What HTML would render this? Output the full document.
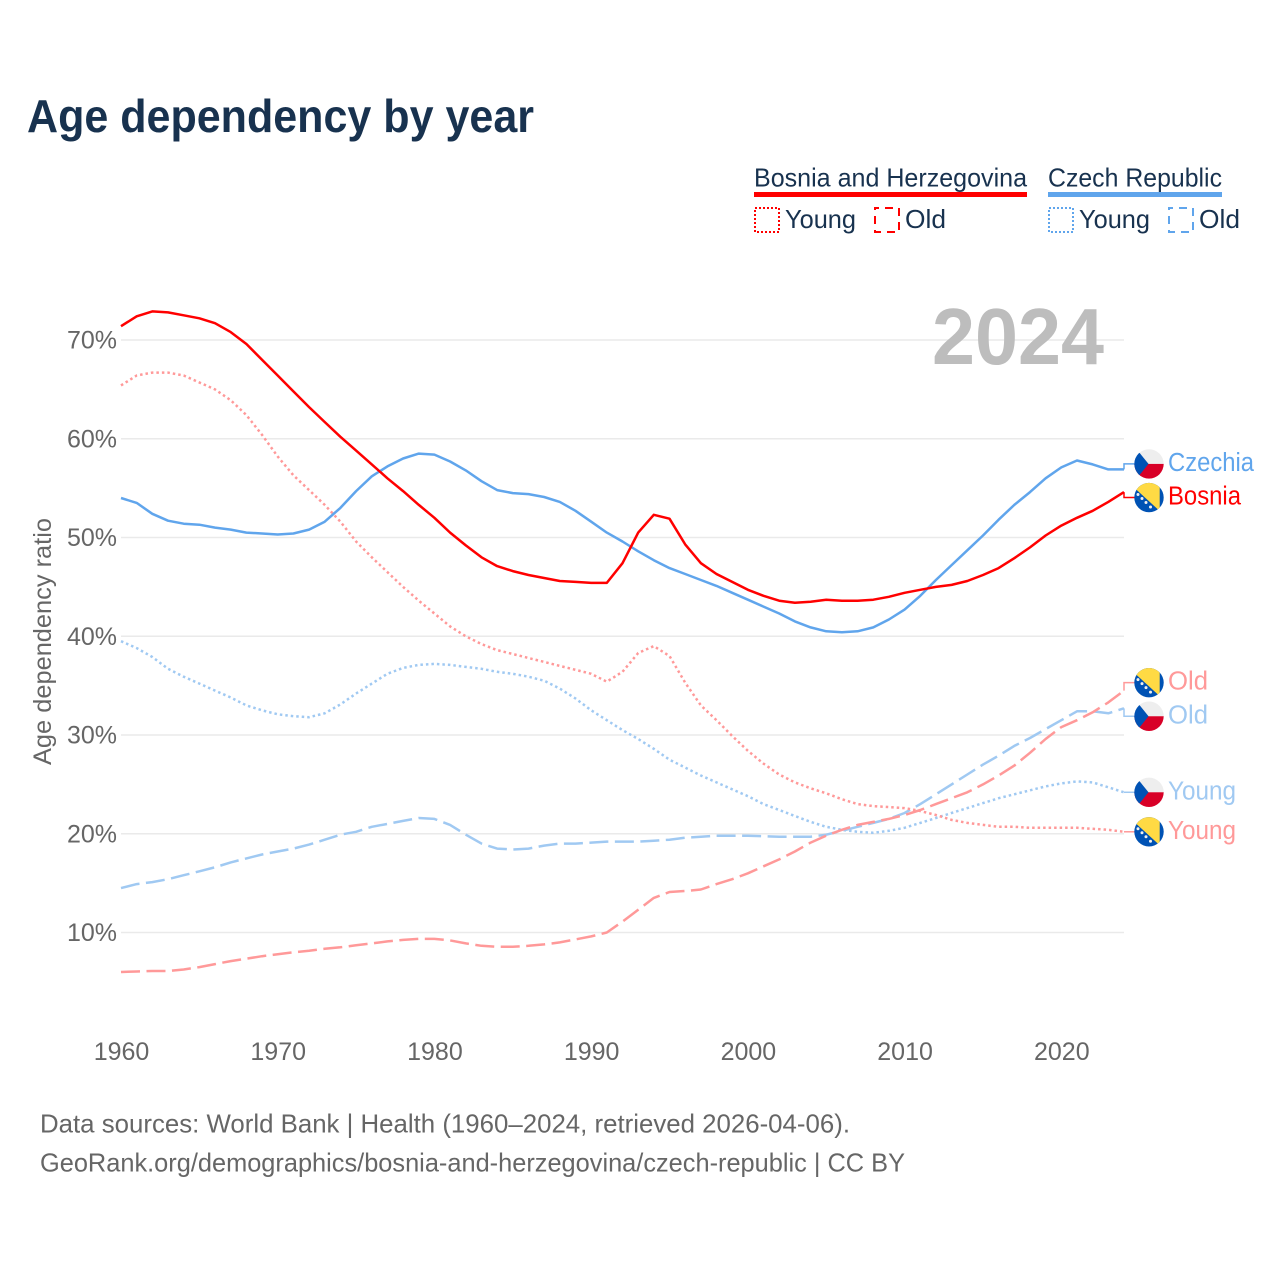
<!DOCTYPE html>
<html lang="en">
<head>
<meta charset="utf-8">
<title>Age dependency by year</title>
<style>
html,body{margin:0;padding:0;background:#fff;}
svg{display:block;}
text{font-family:"Liberation Sans",sans-serif;}
</style>
</head>
<body>
<svg id="chart" xmlns="http://www.w3.org/2000/svg" width="1280" height="1280" viewBox="0 0 1280 1280">
  <defs>
    <clipPath id="flag-clip"><circle cx="0" cy="0" r="14.7"/></clipPath>
    <g id="flag-cz" clip-path="url(#flag-clip)">
      <rect x="-15" y="-15" width="30" height="15" fill="#eeeeee"/>
      <rect x="-15" y="0" width="30" height="15" fill="#d80027"/>
      <polygon points="-15,-18 -0.5,0 -15,18" fill="#0052b4"/>
    </g>
    <g id="flag-ba" clip-path="url(#flag-clip)">
      <rect x="-15" y="-15" width="30" height="30" fill="#0052b4"/>
      <polygon points="-15,-10 10.7,13.5 10.7,-15 -15,-15" fill="#ffda44"/>
      <g fill="#f0f0f0">
        <circle cx="-11" cy="-3" r="1.5"/><circle cx="-7" cy="1" r="1.5"/><circle cx="-3" cy="5" r="1.5"/><circle cx="1.5" cy="9.5" r="1.5"/>
      </g>
    </g>
  </defs>

  <rect x="0" y="0" width="1280" height="1280" fill="#ffffff"/>
  <text x="27" y="132" font-size="46" font-weight="700" fill="#18324f" textLength="507" lengthAdjust="spacingAndGlyphs">Age dependency by year</text>

  <g font-size="26" fill="#18324f">
    <text x="754" y="186.5" textLength="273" lengthAdjust="spacingAndGlyphs">Bosnia and Herzegovina</text>
    <rect x="754" y="192" width="273" height="5" fill="#ff0000"/>
    <rect x="755" y="208" width="24" height="24" fill="none" stroke="#ff0000" stroke-width="2" stroke-dasharray="2 2"/>
    <text x="785" y="228" textLength="71" lengthAdjust="spacingAndGlyphs">Young</text>
    <rect x="875" y="208" width="24" height="24" fill="none" stroke="#ff0000" stroke-width="2" stroke-dasharray="8 6" stroke-dashoffset="4"/>
    <text x="905" y="228" textLength="41" lengthAdjust="spacingAndGlyphs">Old</text>

    <text x="1048" y="186.5" textLength="174" lengthAdjust="spacingAndGlyphs">Czech Republic</text>
    <rect x="1048" y="192" width="174" height="5" fill="#60a5ec"/>
    <rect x="1049" y="208" width="24" height="24" fill="none" stroke="#60a5ec" stroke-width="2" stroke-dasharray="2 2"/>
    <text x="1079" y="228" textLength="71" lengthAdjust="spacingAndGlyphs">Young</text>
    <rect x="1169" y="208" width="24" height="24" fill="none" stroke="#60a5ec" stroke-width="2" stroke-dasharray="8 6" stroke-dashoffset="4"/>
    <text x="1199" y="228" textLength="41" lengthAdjust="spacingAndGlyphs">Old</text>
  </g>

  <g id="grid"></g>
  <g id="yticks"></g>
  <g id="xticks"></g>
  <text transform="translate(51,765) rotate(-90)" font-size="25" fill="#666666" textLength="247" lengthAdjust="spacingAndGlyphs">Age dependency ratio</text>
  <text x="932" y="364" font-size="80" font-weight="700" fill="#bdbdbd" textLength="172" lengthAdjust="spacingAndGlyphs">2024</text>

  <g id="series"></g>
  <g id="labels"></g>

  <text x="40" y="1132.5" font-size="26" fill="#666666" textLength="810" lengthAdjust="spacingAndGlyphs">Data sources: World Bank | Health (1960–2024, retrieved 2026-04-06).</text>
  <text x="40" y="1171.5" font-size="26" fill="#666666" textLength="865" lengthAdjust="spacingAndGlyphs">GeoRank.org/demographics/bosnia-and-herzegovina/czech-republic | CC BY</text>
</svg>
<script>
const years = [1960,1961,1962,1963,1964,1965,1966,1967,1968,1969,1970,1971,1972,1973,1974,1975,1976,1977,1978,1979,1980,1981,1982,1983,1984,1985,1986,1987,1988,1989,1990,1991,1992,1993,1994,1995,1996,1997,1998,1999,2000,2001,2002,2003,2004,2005,2006,2007,2008,2009,2010,2011,2012,2013,2014,2015,2016,2017,2018,2019,2020,2021,2022,2023,2024];
const bosniaTotal = [71.4,72.4,72.9,72.8,72.5,72.2,71.7,70.8,69.6,68.0,66.4,64.8,63.2,61.7,60.2,58.8,57.4,56.0,54.7,53.3,52.0,50.5,49.2,48.0,47.1,46.6,46.2,45.9,45.6,45.5,45.4,45.4,47.4,50.5,52.3,51.9,49.3,47.4,46.3,45.5,44.7,44.1,43.6,43.4,43.5,43.7,43.6,43.6,43.7,44.0,44.4,44.7,45.0,45.2,45.6,46.2,46.9,47.9,49.0,50.2,51.2,52.0,52.7,53.6,54.6];
const czechTotal = [54.0,53.5,52.4,51.7,51.4,51.3,51.0,50.8,50.5,50.4,50.3,50.4,50.8,51.6,53.0,54.7,56.2,57.2,58.0,58.5,58.4,57.7,56.8,55.7,54.8,54.5,54.4,54.1,53.6,52.7,51.6,50.5,49.6,48.6,47.7,46.9,46.3,45.7,45.1,44.4,43.7,43.0,42.3,41.5,40.9,40.5,40.4,40.5,40.9,41.7,42.7,44.1,45.7,47.2,48.7,50.2,51.8,53.3,54.6,56.0,57.1,57.8,57.4,56.9,56.9];
const bosniaYoung = [65.4,66.4,66.7,66.7,66.4,65.7,65.0,63.9,62.4,60.4,58.2,56.3,54.8,53.3,51.6,49.6,48.0,46.5,45.0,43.6,42.3,41.0,40.0,39.2,38.6,38.2,37.8,37.4,37.0,36.6,36.2,35.4,36.4,38.3,39.0,38.0,35.3,33.0,31.5,29.9,28.4,27.1,26.0,25.2,24.6,24.1,23.5,23.0,22.8,22.7,22.6,22.3,21.9,21.4,21.1,20.9,20.7,20.7,20.6,20.6,20.6,20.6,20.5,20.4,20.2];
const bosniaOld = [6.0,6.05,6.1,6.1,6.25,6.5,6.8,7.1,7.35,7.6,7.8,8.0,8.15,8.35,8.5,8.7,8.9,9.1,9.25,9.35,9.35,9.2,8.9,8.65,8.55,8.55,8.65,8.8,9.0,9.3,9.6,10.0,11.1,12.3,13.5,14.1,14.2,14.35,14.9,15.4,16.0,16.7,17.4,18.2,19.1,19.8,20.4,20.9,21.2,21.5,21.9,22.4,23.0,23.6,24.2,25.0,25.9,26.9,28.2,29.6,30.8,31.5,32.3,33.3,34.5];
const czechYoung = [39.5,38.8,37.9,36.7,35.9,35.2,34.5,33.8,33.0,32.5,32.1,31.9,31.8,32.2,33.1,34.2,35.2,36.2,36.8,37.1,37.2,37.1,36.9,36.7,36.4,36.2,35.9,35.5,34.7,33.7,32.5,31.5,30.5,29.6,28.6,27.5,26.7,25.9,25.2,24.5,23.8,23.0,22.4,21.8,21.2,20.7,20.4,20.2,20.1,20.3,20.6,21.1,21.6,22.1,22.6,23.1,23.6,24.0,24.4,24.8,25.1,25.3,25.2,24.7,24.2];
const czechOld = [14.5,14.9,15.1,15.4,15.8,16.2,16.6,17.1,17.5,17.9,18.2,18.5,18.9,19.4,19.9,20.2,20.7,21.0,21.3,21.6,21.5,20.9,19.9,19.0,18.5,18.4,18.5,18.8,19.0,19.0,19.1,19.2,19.2,19.2,19.3,19.4,19.6,19.7,19.8,19.8,19.8,19.75,19.7,19.7,19.7,19.9,20.3,20.7,21.1,21.5,22.1,23.0,24.0,25.0,26.0,27.0,27.9,28.9,29.7,30.6,31.5,32.4,32.4,32.2,32.7];
const yTickValues = [10,20,30,40,50,60,70];
const yTickLabels = ["10%","20%","30%","40%","50%","60%","70%"];
const xTickValues = [1960,1970,1980,1990,2000,2010,2020];
const xTickLabels = ["1960","1970","1980","1990","2000","2010","2020"];

const NS = "http://www.w3.org/2000/svg";
function xScale(year){ return 121 + (year - 1960) * (1003 / 64); }
function yScale(v){ return 340 + (70 - v) * 9.875; }
function make(tag, attrs, parent){
  const e = document.createElementNS(NS, tag);
  for (const k in attrs) e.setAttribute(k, attrs[k]);
  parent.appendChild(e);
  return e;
}

const gridG = document.getElementById("grid");
const yG = document.getElementById("yticks");
const xG = document.getElementById("xticks");
yTickValues.forEach(function(v, i){
  const line = make("line", {x1:121, x2:1124, y1:yScale(v), y2:yScale(v), stroke:"#eaeaea", "stroke-width":1.5}, gridG);
  
  
  const t = make("text", {x:117, y:yScale(v)+8.5, "text-anchor":"end", "font-size":25, fill:"#666666"}, yG);
  
  
  t.textContent = yTickLabels[i];
});
xTickValues.forEach(function(v, i){
  const t = make("text", {x:xScale(v) + 0.5, y:1060, "text-anchor":"middle", "font-size":25, fill:"#666666"}, xG);
  
  
  t.textContent = xTickLabels[i];
});

const RED = "#ff0000", BLUE = "#60a5ec", LRED = "#ff9999", LBLUE = "#a0c9f2";
const DOT = "2.5 3", DASH = "19 6.5";
const seriesList = [
  {name:"czech-old", vals:czechOld, color:LBLUE, dash:DASH, label:"Old", flag:"#flag-cz"},
  {name:"czech-young", vals:czechYoung, color:LBLUE, dash:DOT, label:"Young", flag:"#flag-cz"},
  {name:"bosnia-old", vals:bosniaOld, color:LRED, dash:DASH, label:"Old", flag:"#flag-ba"},
  {name:"bosnia-young", vals:bosniaYoung, color:LRED, dash:DOT, label:"Young", flag:"#flag-ba"},
  {name:"czech-total", vals:czechTotal, color:BLUE, dash:"none", label:"Czechia", flag:"#flag-cz"},
  {name:"bosnia-total", vals:bosniaTotal, color:RED, dash:"none", label:"Bosnia", flag:"#flag-ba"}
];

const seriesG = document.getElementById("series");
seriesList.forEach(function(s){
  const d = s.vals.map(function(v, i){
    return (i ? "L" : "M") + xScale(years[i]).toFixed(1) + " " + yScale(v).toFixed(1);
  }).join("");
  const p = make("path", {d:d, fill:"none", stroke:s.color, "stroke-width":2.5, "stroke-dasharray":s.dash, "stroke-linejoin":"round"}, seriesG);
  
  
});

/* End labels: dodge overlapping label positions around the final data values */
const GAP = 33.6;
const ends = seriesList.map(function(s){
  const y = yScale(s.vals[s.vals.length - 1]);
  return {s:s, y:y, ly:y};
}).sort(function(a, b){ return a.y - b.y; });
let clusters = ends.map(function(e){ return {items:[e], mean:e.y}; });
let merged = true;
while (merged) {
  merged = false;
  for (let i = 0; i < clusters.length - 1; i++) {
    const a = clusters[i], b = clusters[i + 1];
    const aBottom = a.mean + (a.items.length - 1) * GAP / 2;
    const bTop = b.mean - (b.items.length - 1) * GAP / 2;
    if (bTop - aBottom < GAP) {
      const items = a.items.concat(b.items);
      const mean = items.reduce(function(t, e){ return t + e.y; }, 0) / items.length;
      clusters.splice(i, 2, {items:items, mean:mean});
      merged = true;
      break;
    }
  }
}
clusters.forEach(function(c){
  c.items.forEach(function(e, i){
    e.ly = c.mean + (i - (c.items.length - 1) / 2) * GAP;
  });
});

const labelFit = {Czechia:86, Bosnia:73, Old:40, Young:68};
const labelsG = document.getElementById("labels");
ends.forEach(function(e){
  const lastX = xScale(years[years.length - 1]);
  const conn = make("path", {d:"M" + lastX + " " + e.y + "V" + e.ly + "H1136", fill:"none", stroke:e.s.color, "stroke-width":1.5}, labelsG);
  
  
  const flag = make("use", {href:e.s.flag, transform:"translate(1149," + e.ly + ")"}, labelsG);
  
  
  const t = make("text", {x:1168, y:e.ly + 7, "font-size":25.5, fill:e.s.color, textLength:labelFit[e.s.label], lengthAdjust:"spacingAndGlyphs"}, labelsG);
  
  
  t.textContent = e.s.label;
});
</script>
</body>
</html>
